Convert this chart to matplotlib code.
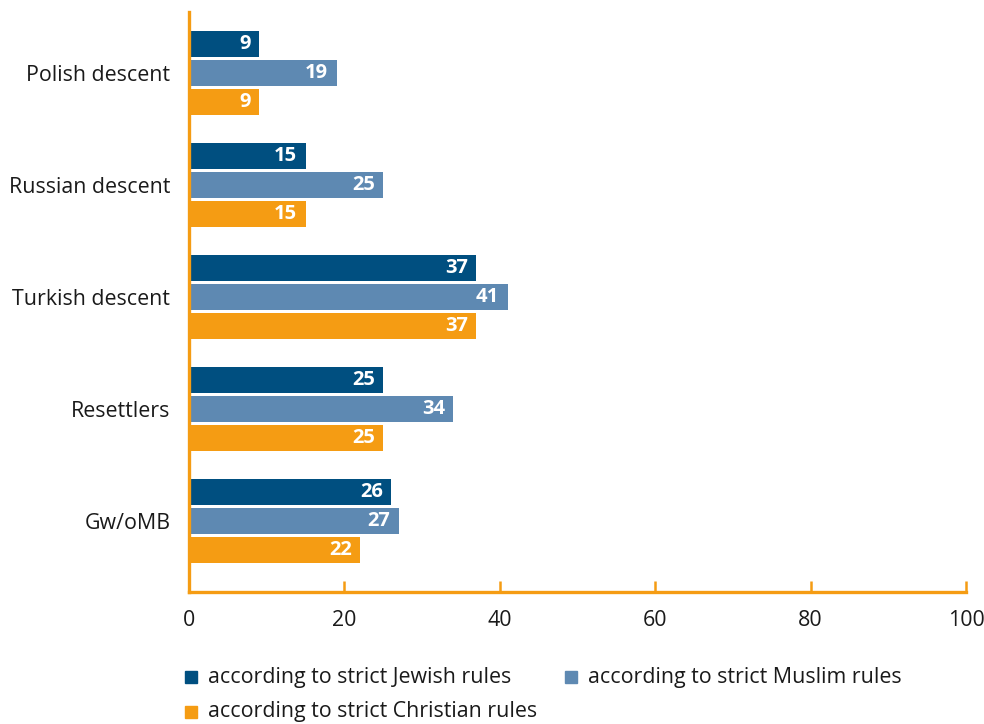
import matplotlib
matplotlib.use("Agg")
import matplotlib.pyplot as plt
from matplotlib.patches import Rectangle
import numpy as np

plt.rcParams['font.family'] = ['Open Sans', 'DejaVu Sans']

categories = ["Polish descent", "Russian descent", "Turkish descent", "Resettlers", "Gw/oMB"]
jewish = [9, 15, 37, 25, 26]
muslim = [19, 25, 41, 34, 27]
christian = [9, 15, 37, 25, 22]
series_names = ["according to strict Jewish rules",
                "according to strict Muslim rules",
                "according to strict Christian rules"]
xticks = [0, 20, 40, 60, 80, 100]

colors = ["#004f80", "#5e89b2", "#f59c13"]
axis_color = "#f59c13"
fs = 15.4

W, H = 984, 724
fig = plt.figure(figsize=(W / 100, H / 100), dpi=100)
ax = fig.add_axes([189 / W, (H - 592) / H, (966 - 189) / W, (592 - 12) / H])

y = np.arange(len(categories))
bar_h = 0.235
step = 0.259
for i, (vals, c) in enumerate(zip([jewish, muslim, christian], colors)):
    pos = y + (i - 1) * step
    ax.barh(pos, vals, height=bar_h, color=c, zorder=2)
    for p, v in zip(pos, vals):
        ax.annotate(str(v), (v, p), xytext=(-6, 0), textcoords="offset points",
                    ha="right", va="center", color="white", fontsize=14.5,
                    fontweight="bold", zorder=3)

ax.set_xlim(0, 100)
ax.set_ylim(len(categories) - 1 + 0.634, -0.545)
ax.set_yticks(y)
ax.set_yticklabels(categories, fontsize=fs, color="#1a1a1a")
ax.set_xticks(xticks)
ax.set_xticklabels([str(t) for t in xticks], fontsize=fs, color="#1a1a1a")

for s in ["top", "right"]:
    ax.spines[s].set_visible(False)
for s in ["left", "bottom"]:
    ax.spines[s].set_color(axis_color)
    ax.spines[s].set_linewidth(2.4)
    ax.spines[s].set_zorder(4)

ax.tick_params(axis="y", length=0, pad=13.5)
ax.tick_params(axis="x", direction="in", length=8, width=1.8, color=axis_color, pad=13)

# legend drawn as square swatches with labels
legend_items = [(185, 677, 0), (565, 677, 1), (185, 712, 2)]
for lx, ly, k in legend_items:
    fig.patches.append(Rectangle(((lx) / W, (H - ly - 6) / H), 12 / W, 12 / H,
                                 transform=fig.transFigure, color=colors[k]))
    fig.text((lx + 23) / W, (H - ly) / H, series_names[k], fontsize=fs,
             va="center", ha="left", color="#1a1a1a")

fig.savefig("out.png", dpi=100)
